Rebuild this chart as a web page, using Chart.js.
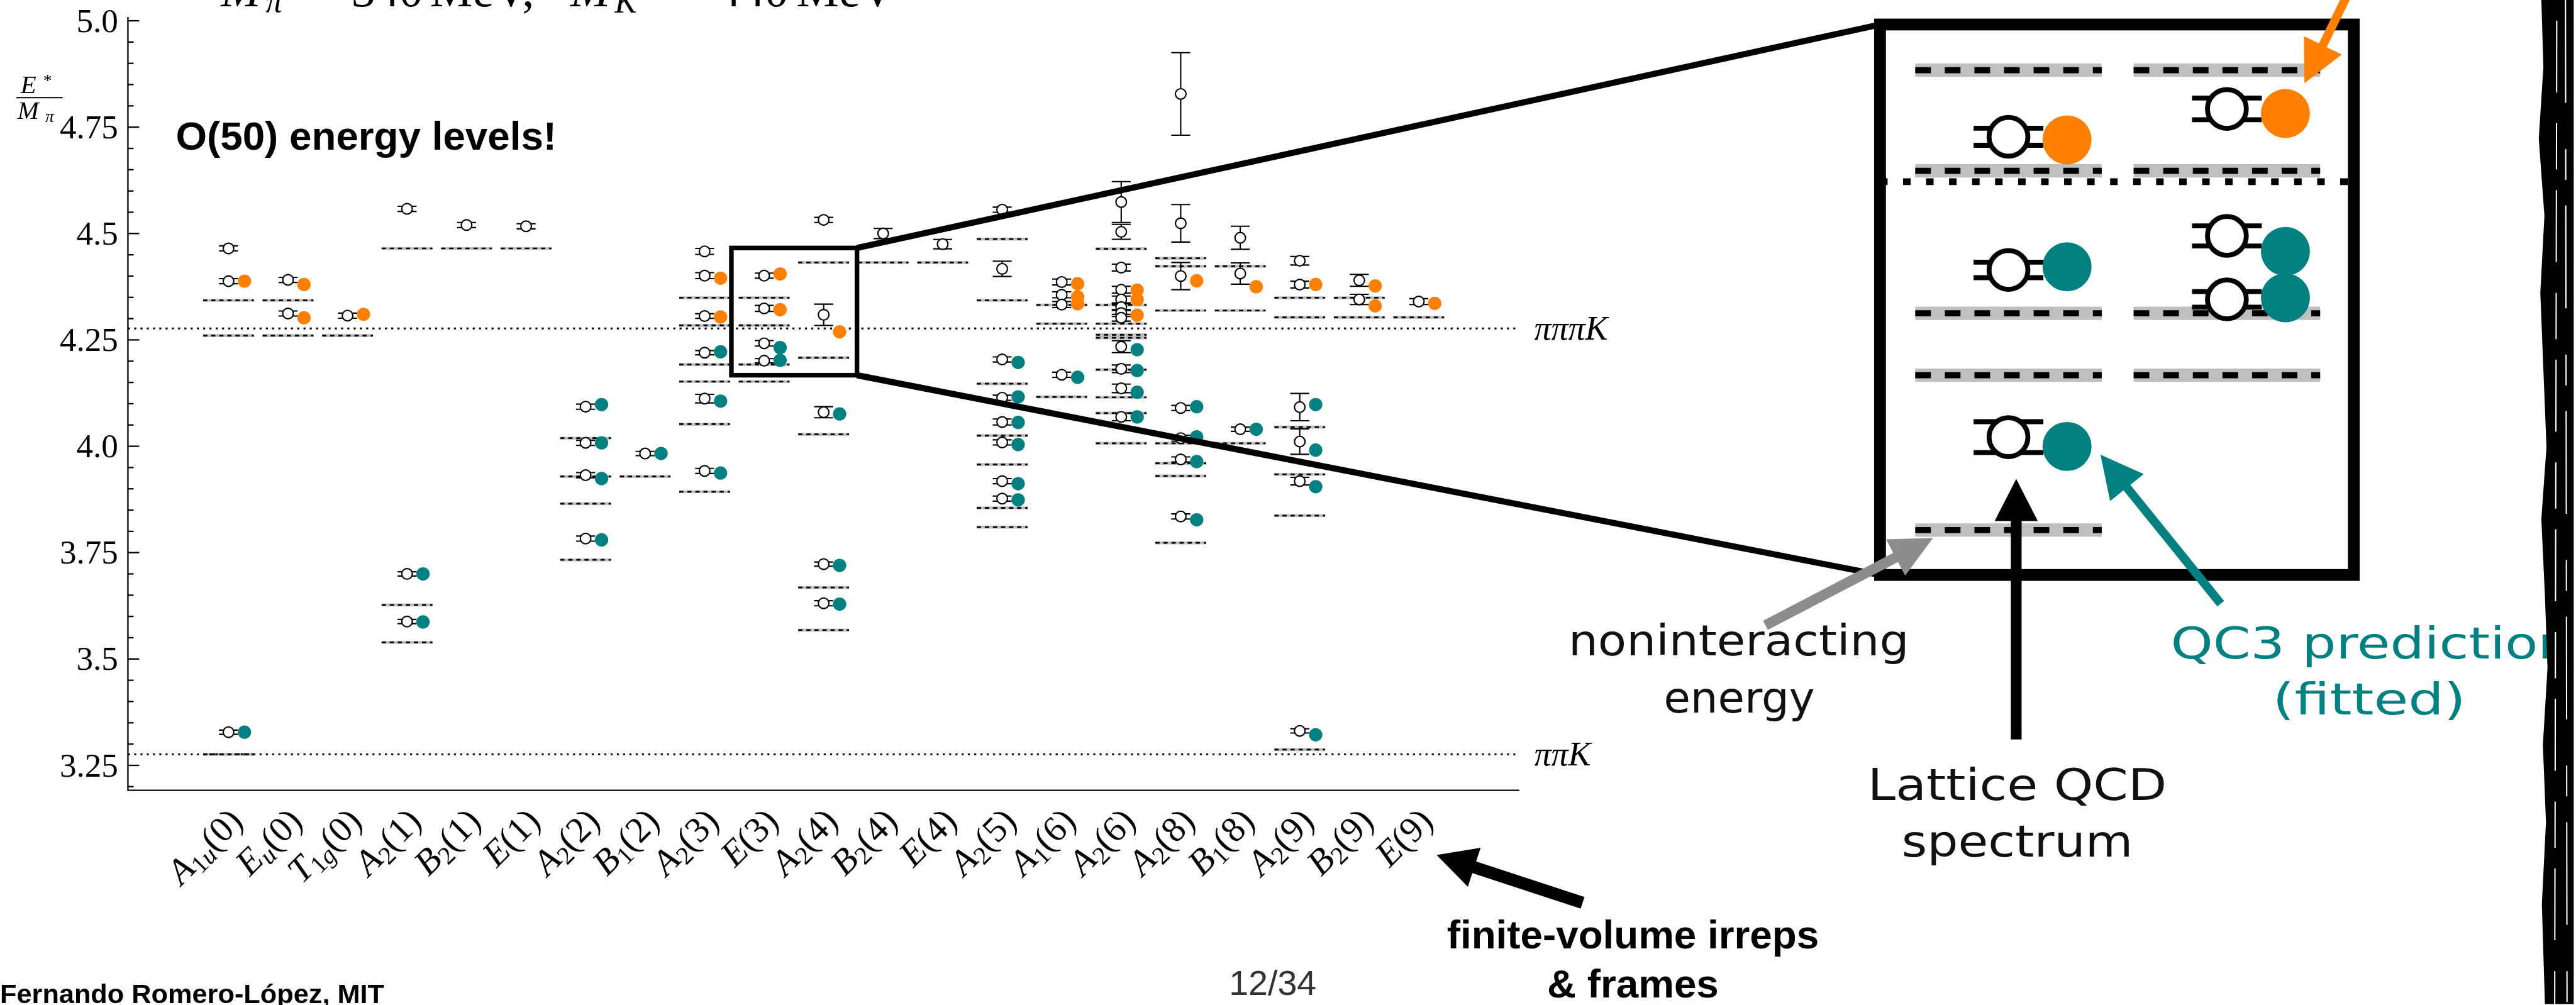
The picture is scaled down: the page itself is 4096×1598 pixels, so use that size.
<!doctype html>
<html lang="en">
<head>
  <meta charset="utf-8">
  <title>Espectro ππK</title>
  <style>
    html, body { margin: 0; padding: 0; background: #fff; }
    #lienzo { position: relative; width: 4096px; height: 1598px; overflow: hidden; background: #fff; }
    #lienzo canvas { position: absolute; left: 0; top: 0; }
  </style>
</head>
<body>
  <div id="lienzo">
    <canvas id="grafico" width="4096" height="1598"></canvas>
    <canvas id="zoom" width="4096" height="1598"></canvas>
  </div>

  <script src="https://cdn.jsdelivr.net/npm/chart.js"></script>
  <script>
    const S = 0.817;      // reference px -> window px
    const MAG = 3.67;     // magnification of the inset

    // finite-volume irreps (symbol, subscript, frame)
    const irrepSym   = ['A','E','T','A','B','E','A','B','A','E','A','B','E','A','A','A','A','B','A','B','E'];
    const irrepSub   = ['1u','u','1g','2','2','','2','1','2','','2','2','','2','1','2','2','1','2','2',''];
    const irrepFrame = ['0','0','0','1','1','1','2','2','3','3','4','4','4','5','6','6','8','8','9','9','9'];

    const yTicks      = [3.25, 3.5, 3.75, 4.0, 4.25, 4.5, 4.75, 5.0];
    const yTickLabels = ['3.25', '3.5', '3.75', '4.0', '4.25', '4.5', '4.75', '5.0'];

    // thresholds
    const thrE     = [3.276, 4.277];
    const thrLabel = ['ππK', 'πππK'];

    // lattice QCD spectrum, per irrep
    const latE = [
      [4.465, 4.388, 3.328],
      [4.391, 4.312],
      [4.307],
      [4.558, 3.700, 3.588],
      [4.520],
      [4.517],
      [4.093, 4.008, 3.932, 3.783],
      [3.983],
      [4.458, 4.401, 4.306, 4.220, 4.112, 3.942],
      [4.401, 4.324, 4.242, 4.201],
      [4.532, 4.309, 4.080, 3.723, 3.631],
      [4.500],
      [4.475],
      [4.556, 4.417, 4.204, 4.114, 4.057, 4.009, 3.918, 3.877],
      [4.386, 4.356, 4.333, 4.168],
      [4.574, 4.504, 4.420, 4.368, 4.345, 4.327, 4.313, 4.302, 4.234, 4.182, 4.136, 4.069],
      [4.828, 4.524, 4.400, 4.090, 4.019, 3.969, 3.835],
      [4.490, 4.406, 4.040],
      [4.436, 4.380, 4.092, 4.011, 3.918, 3.331],
      [4.390, 4.345],
      [4.340]
    ];
    const latErr = [
      [0.006, 0.006, 0.005],
      [0.006, 0.006],
      [0.006],
      [0.006, 0.005, 0.005],
      [0.006],
      [0.006],
      [0.006, 0.006, 0.006, 0.006],
      [0.005],
      [0.007, 0.007, 0.0055, 0.005, 0.010, 0.006],
      [0.006, 0.007, 0.0065, 0.005],
      [0.006, 0.025, 0.013, 0.005, 0.006],
      [0.012],
      [0.011],
      [0.006, 0.018, 0.006, 0.006, 0.007, 0.006, 0.006, 0.006],
      [0.007, 0.007, 0.007, 0.006],
      [0.048, 0.0175, 0.008, 0.008, 0.008, 0.008, 0.008, 0.008, 0.014, 0.009, 0.010, 0.009],
      [0.097, 0.044, 0.032, 0.006, 0.007, 0.006, 0.006],
      [0.027, 0.025, 0.005],
      [0.010, 0.008, 0.032, 0.030, 0.009, 0.005],
      [0.014, 0.012],
      [0.007]
    ];

    // QC3 predictions (fitted)
    const orangeE = [
      [4.388], [4.380, 4.302], [4.310], [], [], [], [], [],
      [4.395, 4.304], [4.405, 4.321], [4.269], [], [], [],
      [4.382, 4.351, 4.335], [4.367, 4.345, 4.308], [4.389], [4.375], [4.380], [4.377, 4.330], [4.336]
    ];
    const tealE = [
      [3.328], [], [], [3.700, 3.587], [], [], [4.098, 4.008, 3.924, 3.780], [3.983],
      [4.222, 4.106, 3.937], [4.232, 4.202], [4.076, 3.720, 3.629], [], [],
      [4.197, 4.116, 4.056, 4.004, 3.912, 3.874], [4.162], [4.227, 4.178, 4.127, 4.069],
      [4.093, 4.022, 3.964, 3.827], [4.040], [4.098, 3.991, 3.905, 3.322], [], []
    ];

    // noninteracting energies
    const nonintE = [
      [4.343, 4.260, 3.276],
      [4.343, 4.260],
      [4.260],
      [4.465, 3.627, 3.539],
      [4.465],
      [4.465],
      [4.019, 3.929, 3.865, 3.733],
      [3.929],
      [4.349, 4.284, 4.192, 4.152, 4.052, 3.893],
      [4.349, 4.284, 4.192, 4.152],
      [4.432, 4.208, 4.028, 3.668, 3.568],
      [4.432],
      [4.432],
      [4.487, 4.343, 4.147, 4.025, 3.957, 3.855, 3.810],
      [4.332, 4.288, 4.116],
      [4.464, 4.332, 4.288, 4.262, 4.255, 4.180, 4.115, 4.078, 4.007],
      [4.442, 4.423, 4.319, 4.007, 3.960, 3.930, 3.773],
      [4.423, 4.319, 4.007],
      [4.349, 4.303, 4.045, 3.934, 3.837, 3.287],
      [4.349, 4.303],
      [4.303]
    ];

    // axis ranges: main plot, inset, and the little box marked on the main plot
    const xRange = [-1.69, 21.69], yRange = [3.1915, 5.009];
    const zoomX = [7.412, 9.581], zoomY = [4.023, 4.3785];
    const boxX = [8.45, 10.56], boxY = [4.167, 4.466];

    const SERIF = '"Liberation Serif", "DejaVu Serif", serif';
    const SANS = '"Liberation Sans", Arial, sans-serif';
    const HAND = '"DejaVu Sans", sans-serif';

    function pts(arr, dx) {
      const out = [];
      arr.forEach((list, i) => list.forEach(v => out.push({x: i + dx, y: v})));
      return out;
    }
    function segs(arr, half) {
      const out = [];
      arr.forEach((list, i) => list.forEach(v => {
        out.push({x: i - half, y: v}, {x: i + half, y: v}, {x: i, y: null});
      }));
      return out;
    }

    function buildSets(k, xr, bandW) {
      const lw = v => v * k * S;
      return [
        { id: 'band', type: 'line', data: segs(nonintE, 0.427), borderColor: '#bfbfbf',
          borderWidth: bandW * S, pointRadius: 0, fill: false, order: 6, clip: 0 },
        { id: 'dash', type: 'line', data: segs(nonintE, 0.427), borderColor: '#000',
          borderWidth: lw(3.3), borderDash: [lw(8.3), lw(7.4)], pointRadius: 0, fill: false, order: 5, clip: 0 },
        { id: 'thr', type: 'line', data: thrE.flatMap(t => [{x: xr[0], y: t}, {x: xr[1], y: t}, {x: xr[1], y: null}]),
          borderColor: '#000', borderWidth: lw(3.6), borderDash: [lw(4), lw(8.2)], pointRadius: 0, fill: false, order: 4, clip: 0 },
        { id: 'lat', label: 'Lattice QCD', data: pts(latE, 0), pointRadius: lw(10.3), pointBorderWidth: lw(2.6),
          borderWidth: lw(2.6), pointBackgroundColor: '#fff', backgroundColor: '#fff',
          pointBorderColor: '#000', borderColor: '#000', order: 3, clip: 0 },
        { id: 'orange', label: 'QC3', data: pts(orangeE, 0.268), pointRadius: lw(13), pointBorderWidth: 0, borderWidth: 0,
          pointBackgroundColor: '#ff8000', backgroundColor: '#ff8000', order: 2, clip: 0 },
        { id: 'teal', label: 'QC3', data: pts(tealE, 0.268), pointRadius: lw(13), pointBorderWidth: 0, borderWidth: 0,
          pointBackgroundColor: '#008080', backgroundColor: '#008080', order: 1, clip: 0 }
      ];
    }

    const errorBars = {
      id: 'errorBars',
      beforeDatasetDraw(chart, args, opts) {
        if (chart.data.datasets[args.index].id !== 'lat') return;
        const k = opts.k, ctx = chart.ctx, xs = chart.scales.x, ys = chart.scales.y, ca = chart.chartArea;
        const cap = 18.5 * k * S;
        ctx.save();
        ctx.beginPath();
        ctx.rect(ca.left, ca.top, ca.right - ca.left, ca.bottom - ca.top);
        ctx.clip();
        ctx.strokeStyle = '#000';
        ctx.lineWidth = 2.6 * k * S;
        latE.forEach((list, i) => list.forEach((v, j) => {
          const e = latErr[i][j], x = xs.getPixelForValue(i);
          const y1 = ys.getPixelForValue(v + e), y2 = ys.getPixelForValue(v - e);
          ctx.beginPath();
          ctx.moveTo(x, y1); ctx.lineTo(x, y2);
          ctx.moveTo(x - cap, y1); ctx.lineTo(x + cap, y1);
          ctx.moveTo(x - cap, y2); ctx.lineTo(x + cap, y2);
          ctx.stroke();
        }));
        ctx.restore();
      }
    };

    function arrow(ctx, x0, y0, x1, y1, shaftW, headL, headHW, color) {
      const L = Math.hypot(x1 - x0, y1 - y0), ux = (x1 - x0) / L, uy = (y1 - y0) / L;
      const bx = x1 - ux * headL, by = y1 - uy * headL;
      ctx.strokeStyle = color;
      ctx.fillStyle = color;
      ctx.lineWidth = shaftW;
      ctx.lineCap = 'butt';
      ctx.beginPath(); ctx.moveTo(x0, y0); ctx.lineTo(bx + ux * 3, by + uy * 3); ctx.stroke();
      ctx.beginPath();
      ctx.moveTo(x1, y1);
      ctx.lineTo(bx - uy * headHW, by + ux * headHW);
      ctx.lineTo(bx + uy * headHW, by - ux * headHW);
      ctx.closePath();
      ctx.fill();
    }

    function fitText(ctx, txt, cx, base, width, size, color) {
      ctx.font = `${size}px ${HAND}`;
      const w = ctx.measureText(txt).width;
      ctx.save();
      ctx.translate(cx, base);
      ctx.scale(width / w, 1);
      ctx.fillStyle = color;
      ctx.textAlign = 'center';
      ctx.fillText(txt, 0, 0);
      ctx.restore();
    }

    // axes, labels and slide texts of the main plot
    const mainDecor = {
      id: 'mainDecor',
      afterDraw(chart) {
        const ctx = chart.ctx, xs = chart.scales.x, ys = chart.scales.y, ca = chart.chartArea;
        const px = v => xs.getPixelForValue(v) / S, py = v => ys.getPixelForValue(v) / S;
        const L = ca.left / S, R = ca.right / S, T = ca.top / S, B = ca.bottom / S;
        ctx.save();
        ctx.scale(S, S);
        ctx.strokeStyle = '#000';
        ctx.fillStyle = '#000';
        ctx.lineWidth = 2.8;
        ctx.beginPath(); ctx.moveTo(L, T); ctx.lineTo(L, B); ctx.lineTo(R, B); ctx.stroke();

        for (let n = 60; n <= 101; n++) {
          const v = n * 0.05;
          if (v < ys.min || v > ys.max) continue;
          const len = n % 5 === 0 ? 22 : 11, y = py(v);
          ctx.beginPath(); ctx.moveTo(L, y); ctx.lineTo(L + len, y); ctx.stroke();
        }

        ctx.textBaseline = 'alphabetic';
        ctx.font = `65px ${SERIF}`;
        ctx.textAlign = 'right';
        yTicks.forEach((v, i) => ctx.fillText(yTickLabels[i], 230, py(v) + 21.5));

        // y title E*/M_pi
        ctx.textAlign = 'left';
        ctx.font = `italic 50px ${SERIF}`;
        ctx.fillText('E', 40, 181);
        ctx.fillText('M', 34, 231);
        ctx.font = `34px ${SERIF}`;
        ctx.fillText('*', 84, 168);
        ctx.font = `italic 34px ${SERIF}`;
        ctx.fillText('π', 88, 238);
        ctx.lineWidth = 2.5;
        ctx.beginPath(); ctx.moveTo(32, 190); ctx.lineTo(122, 190); ctx.stroke();

        // x labels, rotated
        const F = 70;
        irrepSym.forEach((sym, i) => {
          const parts = [[sym, `italic ${F}px ${SERIF}`, 0]];
          for (const ch of irrepSub[i]) {
            parts.push([ch, /[0-9]/.test(ch) ? `${F * 0.7}px ${SERIF}` : `italic ${F * 0.7}px ${SERIF}`, F * 0.16]);
          }
          parts.push(['(' + irrepFrame[i] + ')', `${F}px ${SERIF}`, 0]);
          let w = 0;
          parts.forEach(p => { ctx.font = p[1]; p.push(ctx.measureText(p[0]).width); w += p[3]; });
          ctx.save();
          ctx.translate(px(i) + 31, 1602);
          ctx.rotate(-Math.PI / 4);
          let x = -w;
          parts.forEach(p => { ctx.font = p[1]; ctx.fillText(p[0], x, p[2]); x += p[3]; });
          ctx.restore();
        });

        // threshold labels
        ctx.font = `italic 66px ${SERIF}`;
        thrE.forEach((t, i) => ctx.fillText(thrLabel[i], 2986, py(t) + 22));

        // box marking the zoomed region
        ctx.lineWidth = 9;
        ctx.strokeRect(px(boxX[0]), py(boxY[1]), px(boxX[1]) - px(boxX[0]), py(boxY[0]) - py(boxY[1]));

        ctx.font = `bold 78px ${SANS}`;
        ctx.fillText('O(50) energy levels!', 342, 291);

        // title, mostly cut by the top of the slide
        const tf = 93;
        ctx.font = `italic ${tf}px ${SERIF}`;
        ctx.fillText('M', 430, 12);
        ctx.fillText('M', 1110, 12);
        ctx.font = `italic ${tf * 0.7}px ${SERIF}`;
        ctx.fillText('π', 517, 23);
        ctx.fillText('K', 1196, 25);
        ctx.font = `${tf}px ${SERIF}`;
        ctx.fillText('=', 575, 12);
        ctx.fillText('340', 684, 12);
        ctx.fillText('MeV,', 837, 12);
        ctx.fillText('=', 1282, 12);
        ctx.fillText('440', 1395, 12);
        ctx.fillText('MeV', 1550, 12);

        ctx.font = `bold 53px ${SANS}`;
        ctx.fillText('Fernando Romero-López, MIT', 0, 1952);
        ctx.fillStyle = '#333';
        ctx.font = `68px ${SANS}`;
        ctx.textAlign = 'center';
        ctx.fillText('12/34', 2477, 1936);
        ctx.restore();
      }
    };

    // inset frame, connectors, arrows and annotations
    const insetDecor = {
      id: 'insetDecor',
      afterDraw(chart) {
        const ctx = chart.ctx, ca = chart.chartArea;
        const mx = v => grafico.scales.x.getPixelForValue(v) / S;
        const my = v => grafico.scales.y.getPixelForValue(v) / S;
        const L = ca.left / S, R = ca.right / S, T = ca.top / S, B = ca.bottom / S;
        ctx.save();
        ctx.scale(S, S);
        ctx.strokeStyle = '#000';
        ctx.lineWidth = 12;
        ctx.beginPath();
        ctx.moveTo(mx(boxX[1]), my(boxY[1])); ctx.lineTo(L, T);
        ctx.moveTo(mx(boxX[1]), my(boxY[0])); ctx.lineTo(L, B);
        ctx.stroke();
        ctx.lineWidth = 23;
        ctx.strokeRect(L, T, R - L, B - T);

        arrow(ctx, 4566, -5, 4485, 162, 17, 82, 41, '#ff8000');
        arrow(ctx, 4322, 1175, 4088, 885, 17, 82, 42, '#008080');
        arrow(ctx, 3924, 1439, 3924, 932, 21, 82, 42, '#000');
        arrow(ctx, 3436, 1217, 3762, 1047, 20, 82, 40, '#8c8c8c');
        arrow(ctx, 3080, 1757, 2796, 1664, 24, 77, 40, '#000');

        fitText(ctx, 'noninteracting', 3384, 1275, 663, 82, '#111');
        fitText(ctx, 'energy', 3385, 1387, 294, 82, '#111');
        fitText(ctx, 'Lattice QCD', 3926, 1557, 582, 86, '#111');
        fitText(ctx, 'spectrum', 3926, 1667, 450, 86, '#111');
        fitText(ctx, 'QC3 prediction', 4615, 1281, 781, 84, '#008080');
        fitText(ctx, '(fitted)', 4611, 1390, 376, 84, '#008080');

        ctx.fillStyle = '#000';
        ctx.textAlign = 'center';
        ctx.font = `bold 78px ${SANS}`;
        ctx.fillText('finite-volume irreps', 3178, 1846);
        ctx.fillText('& frames', 3178, 1941);

        // scribbled right border of the slide
        const edge = [[4946, 0], [4950, 130], [4941, 270], [4952, 420], [4944, 570], [4950, 720],
                      [4956, 870], [4946, 1010], [4953, 1160], [4958, 1300], [4949, 1450],
                      [4955, 1600], [4947, 1760], [4953, 1954]];
        ctx.beginPath();
        ctx.moveTo(5009, 0);
        edge.forEach(p => ctx.lineTo(p[0], p[1]));
        ctx.lineTo(5009, 1954);
        ctx.closePath();
        ctx.fill();
        ctx.strokeStyle = '#fff';
        ctx.lineWidth = 2.5;
        ctx.setLineDash([140, 60, 90, 40]);
        ctx.beginPath(); ctx.moveTo(4976, 40); ctx.lineTo(4972, 1954); ctx.stroke();
        ctx.setLineDash([200, 90, 60, 50]);
        ctx.beginPath(); ctx.moveTo(4993, 0); ctx.lineTo(4996, 1954); ctx.stroke();
        ctx.restore();
      }
    };

    function makeChart(canvas, cfg) {
      return new Chart(canvas, {
        type: 'scatter',
        data: { datasets: buildSets(cfg.k, cfg.xr, cfg.bandW) },
        options: {
          responsive: false,
          animation: false,
          devicePixelRatio: 1,
          events: [],
          layout: { padding: cfg.pad },
          scales: {
            x: { type: 'linear', min: cfg.xr[0], max: cfg.xr[1], display: false },
            y: { type: 'linear', min: cfg.yr[0], max: cfg.yr[1], display: false }
          },
          plugins: {
            legend: { display: false },
            tooltip: { enabled: false },
            errorBars: { k: cfg.k }
          }
        },
        plugins: [errorBars, cfg.decor]
      });
    }

    const grafico = makeChart(document.getElementById('grafico'), {
      k: 1, xr: xRange, yr: yRange, bandW: 5.7, decor: mainDecor,
      pad: { left: 249 * S, top: 33 * S, right: 4096 - 2957 * S, bottom: 1598 - 1538 * S }
    });
    const detalle = makeChart(document.getElementById('zoom'), {
      k: MAG, xr: zoomX, yr: zoomY, bandW: 26, decor: insetDecor,
      pad: { left: 3659 * S, top: 36 * S, right: 4096 - 4581 * S, bottom: 1598 - 1119 * S }
    });
  </script>
</body>
</html>
